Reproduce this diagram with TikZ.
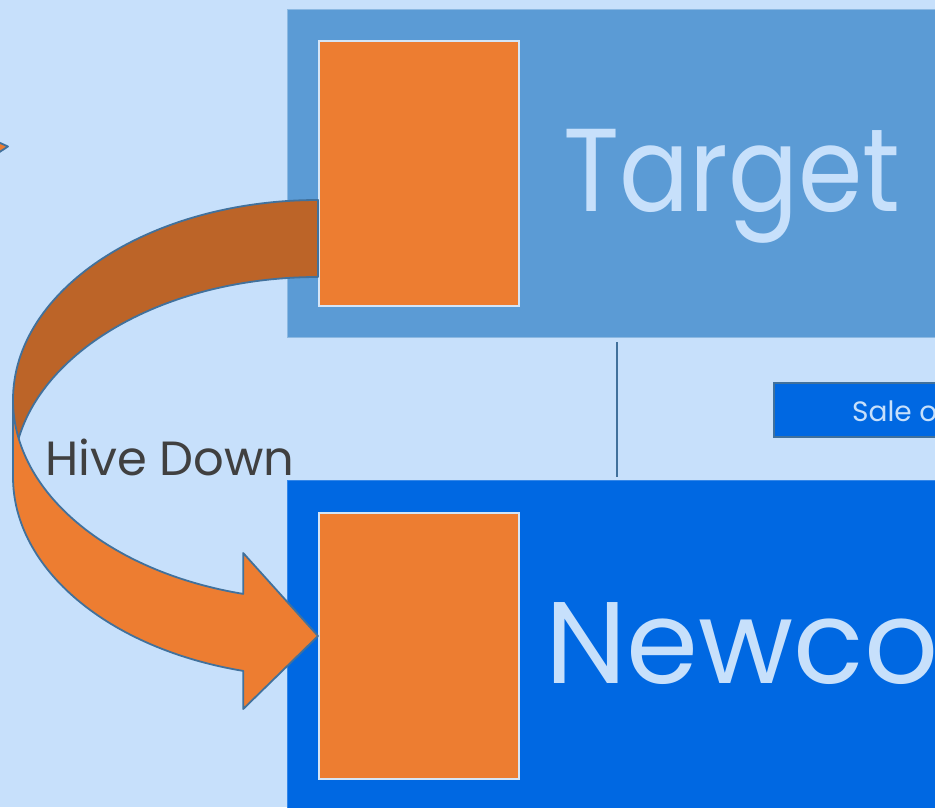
\documentclass[tikz,border=0pt]{standalone}
\usepackage{fontspec}
\setmainfont{Poppins}
\usepackage{tikz}
\usetikzlibrary{positioning}

\definecolor{fons}{HTML}{C7E0FB}
\definecolor{caixa}{HTML}{5B9BD5}
\definecolor{blau}{HTML}{0068E2}
\definecolor{taronja}{HTML}{ED7D31}
\definecolor{fosc}{HTML}{BC6428}
\definecolor{vora}{HTML}{41719C}
\definecolor{vorallum}{HTML}{D4E5F7}
\definecolor{gris}{HTML}{404040}

\begin{document}
\begin{tikzpicture}[
    x=1pt, y=-1pt,
    empresa/.style={
        inner sep=0pt,
        anchor=north west,
        minimum width=820pt
    },
    bloc/.style={
        fill=taronja,
        draw=vorallum,
        line width=1.5pt,
        inner sep=0pt,
        anchor=north west,
        minimum width=200pt,
        minimum height=265pt
    },
    banda/.style={
        draw=vora,
        line width=1.8pt,
        line join=round
    },
    titol/.style={
        text=fons,
        inner sep=0pt,
        anchor=base west
    }
]

% ---------------- FONS ----------------

\useasboundingbox (0,0) rectangle (935,807);
\clip (0,0) rectangle (935,807);
\fill[fons] (0,0) rectangle (935,807);

% fragment de fletxa
\filldraw[banda, fill=taronja] (-2,142) -- (8,146.5) -- (-2,153) -- cycle;


% ---------------- EMPRESES ----------------

% Target
\node[
    empresa,
    fill=caixa,
    draw=caixa!70!white,
    line width=1pt,
    minimum height=328pt
] (target) at (287,9) {};

\node[bloc] (actiu1) at (318,40) {};

\node[titol] (nomtarget) at (563,211)
    {\scalebox{0.88}[1]{\fontsize{118}{118}\selectfont Target}};

% Newco
\node[
    empresa,
    fill=blau,
    draw=blau!80!white,
    line width=1pt,
    minimum height=340pt
] (newco) at (287,480) {};

\node[bloc, minimum height=266pt] (actiu2) at (318,512) {};

\node[titol] (nomnewco) at (545,683)
    {\fontsize{116}{116}\selectfont Newco};


% ---------------- VENDA ----------------

\coordinate (eix) at (617,0);

\draw[
    vora,
    line width=2pt
] ([yshift=-4pt]target.south -| eix) -- ([yshift=3pt]newco.north -| eix);

\node[
    fill=blau,
    draw=vora,
    line width=1.5pt,
    inner sep=0pt,
    anchor=north west,
    minimum width=240pt,
    minimum height=54pt
] (venda) at (773,382) {};

\node[titol] (textvenda) at (852,421)
    {\fontsize{28}{28}\selectfont Sale of};


% ---------------- HIVE DOWN ----------------

% part de darrere
\filldraw[banda, fill=fosc]
    (actiu1.west |- 0,200)
    arc[start angle=270, end angle=180, x radius=305, y radius=200]
    -- (13,477)
    arc[start angle=180, end angle=270, x radius=305, y radius=200]
    -- cycle;

% part de davant amb la punta
\filldraw[banda, fill=taronja]
    (13,400)
    arc[start angle=180, end angle=104.2, x radius=305, y radius=200]
    -- (243.2,553)
    -- (actiu2.west |- 0,636)
    -- (243.2,709)
    -- (243.2,670.9)
    arc[start angle=104.2, end angle=180, x radius=305, y radius=200]
    -- cycle;

\node[
    text=gris,
    inner sep=0pt,
    anchor=base west
] (hive) at (45,475) {\fontsize{48}{48}\selectfont Hive Down};

\end{tikzpicture}
\end{document}
